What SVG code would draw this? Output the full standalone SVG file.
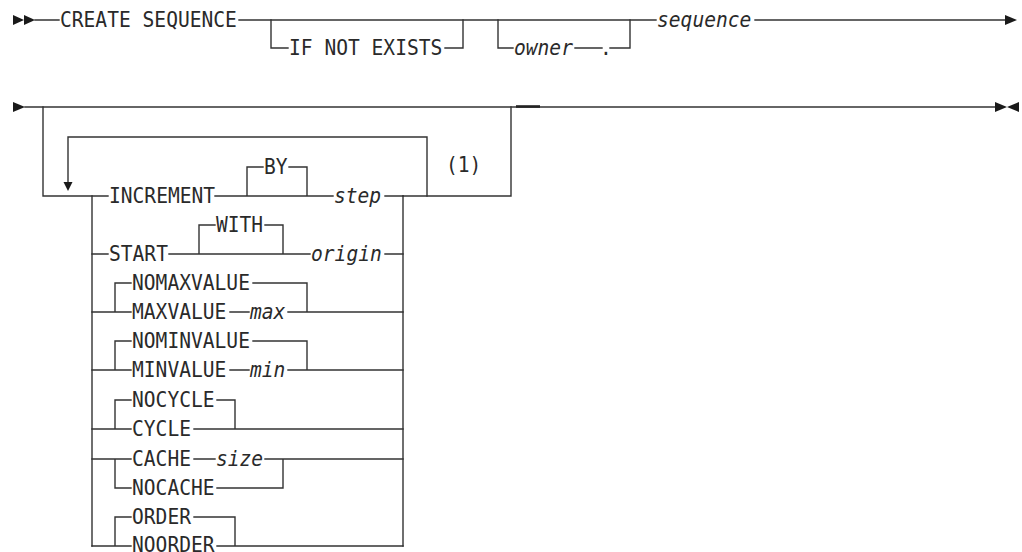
<svg xmlns="http://www.w3.org/2000/svg" width="1022" height="552" viewBox="0 0 1022 552">
<style>
.l{stroke:#333;stroke-width:1.4;fill:none;stroke-linecap:square}
.a{fill:#1a1a1a}
text{font-family:"DejaVu Sans Mono","Liberation Mono",monospace;font-size:19.6px;fill:#2a2a2a;transform-box:fill-box;transform-origin:50% 50%;transform:scaleY(1.12)}
.v{font-style:italic}
</style>
<rect width="1022" height="552" fill="#fff"/>
<g id="connectors">
<!-- row 1 -->
<polygon class="a" points="13,15 24,20 13,25"/>
<polygon class="a" points="24,15 35,20 24,25"/>
<path class="l" d="M35,20H59 M239,20H656 M755,20H1005"/>
<polygon class="a" points="1005,15 1017,20 1005,25"/>
<path class="l" d="M271,20V48H288 M445,48H463V20"/>
<path class="l" d="M498,20V48H513 M575,48H602 M610,48H630V20"/>
<!-- row 2 -->
<polygon class="a" points="13,102 25,107 13,112"/>
<path class="l" d="M25,107H995"/>
<line x1="516" y1="106.5" x2="540" y2="106.5" stroke="#222" stroke-width="2.6"/>
<polygon class="a" points="995,102 1007,107 995,112"/>
<polygon class="a" points="1019,102 1007,107 1019,112"/>
<path class="l" d="M43,107V196H108"/>
<path class="l" d="M68,183V137H427V196"/>
<polygon class="a" points="63.5,182 72.5,182 68,191"/>
<path class="l" d="M403,196H511V107"/>
<path class="l" d="M92,196V546 M403,196V546"/>
<!-- INCREMENT -->
<path class="l" d="M215,196H333 M247,196V167H263 M289,167H307V196 M385,196H403"/>
<!-- START -->
<path class="l" d="M92,254H108 M169,254H310 M199,254V225H215 M265,225H283V254 M385,254H403"/>
<!-- MAXVALUE -->
<path class="l" d="M92,312H131 M230,312H249 M288,312H403 M115,312V283H131 M253,283H307V312"/>
<!-- MINVALUE -->
<path class="l" d="M92,370H131 M230,370H249 M288,370H403 M115,370V341H131 M253,341H307V370"/>
<!-- CYCLE -->
<path class="l" d="M92,429H131 M194,429H403 M115,429V400H131 M217,400H235V429"/>
<!-- CACHE -->
<path class="l" d="M92,459H131 M194,459H215 M265,459H403 M115,459V488H131 M217,488H283V459"/>
<!-- ORDER -->
<path class="l" d="M92,546H131 M217,546H403 M115,546V517H131 M194,517H235V546"/>
</g>
<g id="n_create"><text x="60" y="26">CREATE SEQUENCE</text></g>
<g id="n_ifnotexists"><text x="289" y="54">IF NOT EXISTS</text></g>
<g id="n_owner"><text class="v" x="514" y="54">owner</text><text x="600" y="54">.</text></g>
<g id="n_sequence"><text class="v" x="657" y="26">sequence</text></g>
<g id="n_note"><text x="446" y="171">(1)</text></g>
<g id="n_increment"><text x="109" y="202">INCREMENT</text></g>
<g id="n_by"><text x="264" y="173">BY</text></g>
<g id="n_step"><text class="v" x="334" y="202">step</text></g>
<g id="n_start"><text x="109" y="260">START</text></g>
<g id="n_with"><text x="216" y="231">WITH</text></g>
<g id="n_origin"><text class="v" x="311" y="260">origin</text></g>
<g id="n_nomaxvalue"><text x="132" y="289">NOMAXVALUE</text></g>
<g id="n_maxvalue"><text x="132" y="318">MAXVALUE</text></g>
<g id="n_max"><text class="v" x="250" y="318">max</text></g>
<g id="n_nominvalue"><text x="132" y="347">NOMINVALUE</text></g>
<g id="n_minvalue"><text x="132" y="376">MINVALUE</text></g>
<g id="n_min"><text class="v" x="250" y="376">min</text></g>
<g id="n_nocycle"><text x="132" y="406">NOCYCLE</text></g>
<g id="n_cycle"><text x="132" y="435">CYCLE</text></g>
<g id="n_cache"><text x="132" y="465">CACHE</text></g>
<g id="n_size"><text class="v" x="216" y="465">size</text></g>
<g id="n_nocache"><text x="132" y="494">NOCACHE</text></g>
<g id="n_order"><text x="132" y="523">ORDER</text></g>
<g id="n_noorder"><text x="132" y="551">NOORDER</text></g>
</svg>
